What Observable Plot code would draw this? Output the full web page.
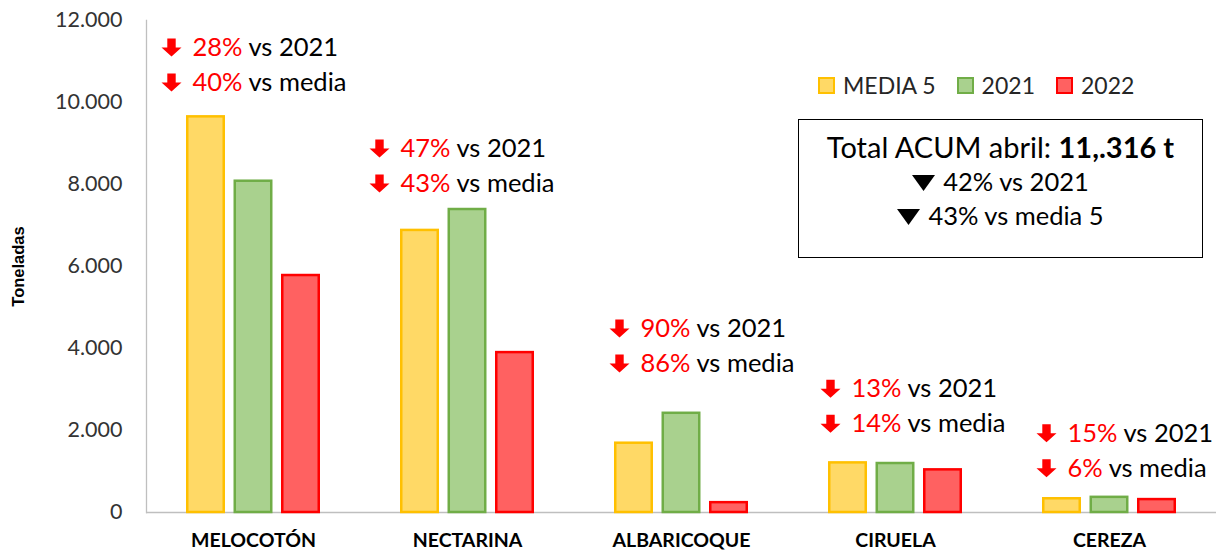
<!DOCTYPE html>
<html><head><meta charset="utf-8">
<script src="https://cdn.jsdelivr.net/npm/d3@7"></script>
<script src="https://cdn.jsdelivr.net/npm/@observablehq/plot@0.6"></script>
<style>
body{margin:0;background:#fff;font-family:Lato,sans-serif;}
#wrap{position:relative;width:1220px;height:553px;overflow:hidden;}
#legend{position:absolute;left:818px;top:71px;display:flex;align-items:center;font-size:23px;color:#262626;white-space:nowrap;}
#legend .item{display:flex;align-items:center;margin-right:21px;}
#legend .sw{display:inline-block;width:13px;height:13px;border:2px solid;margin-right:8px;}
#box{position:absolute;left:798px;top:119px;width:403px;height:128px;border:1px solid #000;text-align:center;color:#000;padding-top:9px;box-sizing:content-box;}
#box .l1{font-size:29px;line-height:35px;}
#box .l2{font-size:25.5px;line-height:34px;}
#box svg.tri{display:inline-block;vertical-align:baseline;margin-right:8px;}
</style></head>
<body><div id="wrap"></div>
<script>
const categories = ["MELOCOTÓN", "NECTARINA", "ALBARICOQUE", "CIRUELA", "CEREZA"];
const seriesNames = ["MEDIA 5", "2021", "2022"];
const media5 = [9650, 6880, 1690, 1210, 335];
const y2021 = [8080, 7390, 2420, 1195, 370];
const y2022 = [5780, 3900, 240, 1040, 315];
const pctVs2021 = ["28%", "47%", "90%", "13%", "15%"];
const pctVsMedia = ["40%", "43%", "86%", "14%", "6%"];
const annotAnchor = [11340, 8880, 4490, 3020, 1930];
const yTicks = [0, 2000, 4000, 6000, 8000, 10000, 12000];
const totalText = "11,.316 t";
const totalVs2021 = "42%";
const totalVsMedia = "43%";

const fills = ["#FFD966", "#A9D18E", "#FF6161"];
const strokes = ["#FFC000", "#70AD47", "#FF0000"];
const annotDx = [-82, -88, -62, -65, -63];

const valuesBySeries = [media5, y2021, y2022];
const data = categories.flatMap((c, i) => seriesNames.map((s, j) => ({cat: c, series: s, value: valuesBySeries[j][i]})));
const annots = categories.map((c, i) => ({cat: c, y: annotAnchor[i], p1: pctVs2021[i], p2: pctVsMedia[i]}));

const width = 1220, height = 553, mL = 146, mR = 4, mT = 20, mB = 41;
const padIn = 0.374, padOut = 0.187;
const step = (width - mL - mR) / categories.length;
const band = step * (1 - padIn);
const sw = 2.5;
const barStep = band / 2.82;
const barW = band - 2 * barStep;

const arrow = {
  draw(ctx, size) {
    const s = Math.sqrt(size / Math.PI);
    ctx.moveTo(-0.42 * s, -0.9 * s);
    ctx.lineTo(0.42 * s, -0.9 * s);
    ctx.lineTo(0.42 * s, 0);
    ctx.lineTo(s, 0);
    ctx.lineTo(0, 0.9 * s);
    ctx.lineTo(-s, 0);
    ctx.lineTo(-0.42 * s, 0);
    ctx.closePath();
  }
};

const fmt = d => d3.format(",")(d).replace(/,/g, ".");

const marks = [
  Plot.ruleY([0], {stroke: "#bfbfbf", strokeWidth: 1.3}),
  Plot.frame({anchor: "left", stroke: "#bfbfbf", strokeWidth: 1.3}),
  ...seriesNames.map((s, j) => {
    const left = j * barStep + sw / 2;
    const right = band - (j * barStep + barW) + sw / 2;
    return Plot.barY(data.filter(d => d.series === s), {
      x: "cat", y: "value", fill: fills[j], stroke: strokes[j], strokeWidth: sw,
      insetLeft: left, insetRight: right
    });
  }),
  Plot.axisY({ticks: yTicks, tickSize: 0, tickPadding: 24, tickFormat: fmt, fontSize: 21.5, fill: "#333", label: null}),
  Plot.axisX({tickSize: 0, tickPadding: 21, fontSize: 19.5, fontWeight: "bold", fill: "#000", label: null}),
  Plot.text(["Toneladas"], {frameAnchor: "left", textAnchor: "middle", rotate: -90, dx: -128, fontSize: 16.5, fontWeight: "bold", fill: "#000", fontFamily: "Liberation Sans, Arial, sans-serif"}),
  ...annots.flatMap((a, i) => [
    Plot.dot([a], {x: "cat", y: "y", symbol: arrow, r: 10, fill: "#FF0000", stroke: null, dx: annotDx[i]}),
    Plot.dot([a], {x: "cat", y: "y", symbol: arrow, r: 10, fill: "#FF0000", stroke: null, dx: annotDx[i], dy: 35}),
    Plot.text([a], {x: "cat", y: "y", text: d => d.p1 + " vs 2021", textAnchor: "start", dx: annotDx[i] + 21, fontSize: 25.5, fill: "#000", className: "annot"}),
    Plot.text([a], {x: "cat", y: "y", text: d => d.p2 + " vs media", textAnchor: "start", dx: annotDx[i] + 21, dy: 35, fontSize: 25.5, fill: "#000", className: "annot"})
  ])
];

const chart = Plot.plot({
  width, height, marginLeft: mL, marginRight: mR, marginTop: mT, marginBottom: mB,
  style: {fontFamily: "Lato, sans-serif", background: "#fff"},
  x: {domain: categories, paddingInner: padIn, paddingOuter: padOut, align: 0.5},
  y: {domain: [0, 12000]},
  marks
});

d3.select(chart).selectAll("g.annot text").each(function() {
  const t = this.textContent;
  const k = t.indexOf(" ");
  const sel = d3.select(this);
  sel.text(null);
  sel.append("tspan").attr("fill", "#FF0000").text(t.slice(0, k));
  sel.append("tspan").attr("fill", "#000").text(t.slice(k));
});

const wrap = document.getElementById("wrap");
wrap.appendChild(chart);

const legend = document.createElement("div");
legend.id = "legend";
seriesNames.forEach((s, j) => {
  const it = document.createElement("div");
  it.className = "item";
  const swatch = document.createElement("span");
  swatch.className = "sw";
  swatch.style.background = fills[j];
  swatch.style.borderColor = strokes[j];
  it.appendChild(swatch);
  it.appendChild(document.createTextNode(s));
  legend.appendChild(it);
});
wrap.appendChild(legend);

const tri = `<svg class="tri" width="23" height="16" viewBox="0 0 23 16"><path d="M0,0H23L11.5,16Z" fill="#000"/></svg>`;
const box = document.createElement("div");
box.id = "box";
box.innerHTML = `<div class="l1">Total ACUM abril: <b>${totalText}</b></div>
<div class="l2">${tri}${totalVs2021} vs 2021</div>
<div class="l2">${tri}${totalVsMedia} vs media 5</div>`;
wrap.appendChild(box);
</script>
</body></html>
